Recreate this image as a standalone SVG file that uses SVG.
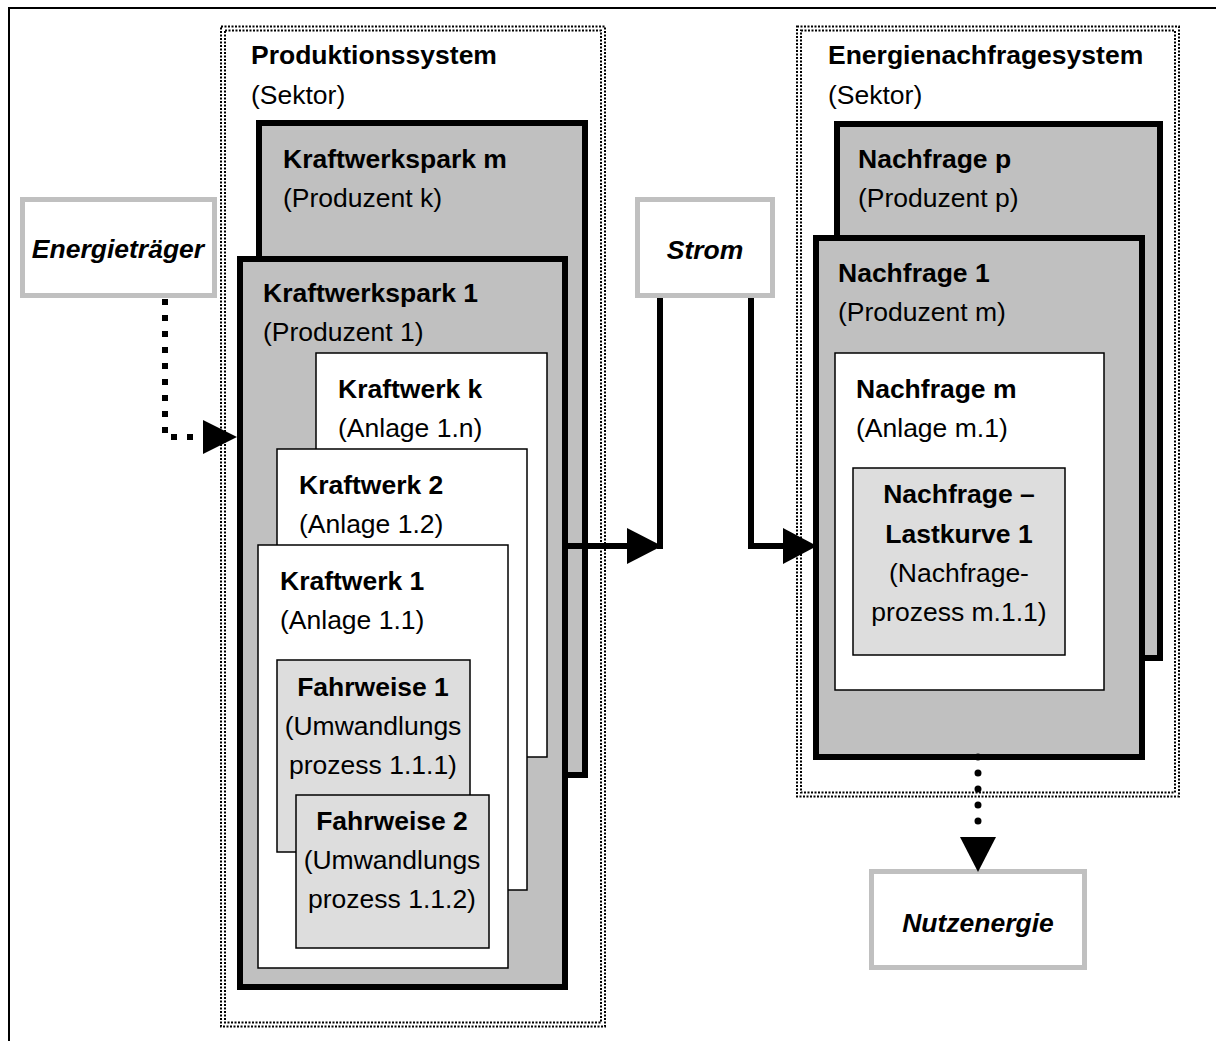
<svg xmlns="http://www.w3.org/2000/svg" width="1216" height="1041" viewBox="0 0 1216 1041">
<style>
text{font-family:"Liberation Sans",Arial,sans-serif;font-size:26.5px;fill:#000}
.b{font-weight:bold}
.bi{font-weight:bold;font-style:italic}
.c{text-anchor:middle}
.dot{fill:none;stroke:#000;stroke-width:2;stroke-dasharray:2 1.5}
.park{fill:#c0c0c0;stroke:#000;stroke-width:6}
.wk{fill:#fff;stroke:#000;stroke-width:1.5}
.fw{fill:#dddddd;stroke:#000;stroke-width:1.5}
.lbl{fill:#fff;stroke:#c0c0c0;stroke-width:5}
.con{fill:none;stroke:#000;stroke-width:6}
</style>
<rect x="9" y="8" width="1230" height="1060" fill="#fff" stroke="#000" stroke-width="2"/>

<g id="produktionssystem">
<rect class="dot" x="221" y="26.5" width="384" height="1000"/>
<rect class="dot" x="225" y="30.5" width="376" height="992"/>
<text class="b" x="251" y="64">Produktionssystem</text>
<text x="251" y="104">(Sektor)</text>
</g>
<g id="energienachfragesystem">
<rect class="dot" x="797" y="26.5" width="382" height="770"/>
<rect class="dot" x="801" y="30.5" width="374" height="762"/>
<text class="b" x="828" y="64">Energienachfragesystem</text>
<text x="828" y="104">(Sektor)</text>
</g>

<g id="kraftwerkspark-m">
<rect class="park" x="259" y="123" width="326" height="652"/>
<text class="b" x="283" y="168">Kraftwerkspark m</text>
<text x="283" y="207">(Produzent k)</text>
</g>
<g id="kraftwerkspark-1">
<rect class="park" x="240" y="259" width="325" height="728"/>
<text class="b" x="263" y="302">Kraftwerkspark 1</text>
<text x="263" y="341">(Produzent 1)</text>
</g>
<g id="kraftwerk-k">
<rect class="wk" x="316" y="353" width="231" height="404"/>
<text class="b" x="338" y="398">Kraftwerk k</text>
<text x="338" y="437">(Anlage 1.n)</text>
</g>
<g id="kraftwerk-2">
<rect class="wk" x="277" y="449" width="250" height="441"/>
<text class="b" x="299" y="494">Kraftwerk 2</text>
<text x="299" y="533">(Anlage 1.2)</text>
</g>
<g id="kraftwerk-1">
<rect class="wk" x="258" y="545" width="250" height="423"/>
<text class="b" x="280" y="590">Kraftwerk 1</text>
<text x="280" y="629">(Anlage 1.1)</text>
</g>
<g id="fahrweise-1">
<rect class="fw" x="277" y="660" width="193" height="192"/>
<text class="b c" x="373" y="696">Fahrweise 1</text>
<text class="c" x="373" y="735">(Umwandlungs</text>
<text class="c" x="373" y="774">prozess 1.1.1)</text>
</g>
<g id="fahrweise-2">
<rect class="fw" x="296" y="795" width="193" height="153"/>
<text class="b c" x="392" y="830">Fahrweise 2</text>
<text class="c" x="392" y="869">(Umwandlungs</text>
<text class="c" x="392" y="908">prozess 1.1.2)</text>
</g>

<g id="nachfrage-p">
<rect class="park" x="837" y="124" width="323" height="534"/>
<text class="b" x="858" y="168">Nachfrage p</text>
<text x="858" y="207">(Produzent p)</text>
</g>
<g id="nachfrage-1">
<rect class="park" x="816" y="238" width="326" height="519"/>
<text class="b" x="838" y="282">Nachfrage 1</text>
<text x="838" y="321">(Produzent m)</text>
</g>
<g id="nachfrage-m">
<rect class="wk" x="835" y="353" width="269" height="337"/>
<text class="b" x="856" y="398">Nachfrage m</text>
<text x="856" y="437">(Anlage m.1)</text>
</g>
<g id="lastkurve-1">
<rect class="fw" x="853" y="468" width="212" height="187"/>
<text class="b c" x="959" y="503">Nachfrage –</text>
<text class="b c" x="959" y="543">Lastkurve 1</text>
<text class="c" x="959" y="582">(Nachfrage-</text>
<text class="c" x="959" y="621">prozess m.1.1)</text>
</g>

<g id="energietraeger">
<rect class="lbl" x="22.5" y="199.5" width="192" height="96"/>
<text class="bi c" x="118" y="258">Energieträger</text>
</g>
<g id="strom">
<rect class="lbl" x="637.5" y="199.5" width="135" height="96"/>
<text class="bi c" x="705" y="259">Strom</text>
</g>
<g id="nutzenergie">
<rect class="lbl" x="871.5" y="871.5" width="213" height="96"/>
<text class="bi c" x="978" y="932">Nutzenergie</text>
</g>

<g id="connectors">
<path class="con" d="M165 299 V437 H205" stroke-dasharray="6 10"/>
<polygon points="203,420 237,437 203,454"/>
<path class="con" d="M568 546 H630"/>
<path class="con" d="M660 298 V549"/>
<polygon points="627,528 662,546 627,564"/>
<path class="con" d="M751 298 V546 H786"/>
<polygon points="783,528 817,546 783,564"/>
<path d="M978 757 V830" fill="none" stroke="#000" stroke-width="7" stroke-linecap="round" stroke-dasharray="0 16"/>
<polygon points="960,837 996,837 978,872"/>
</g>
</svg>
